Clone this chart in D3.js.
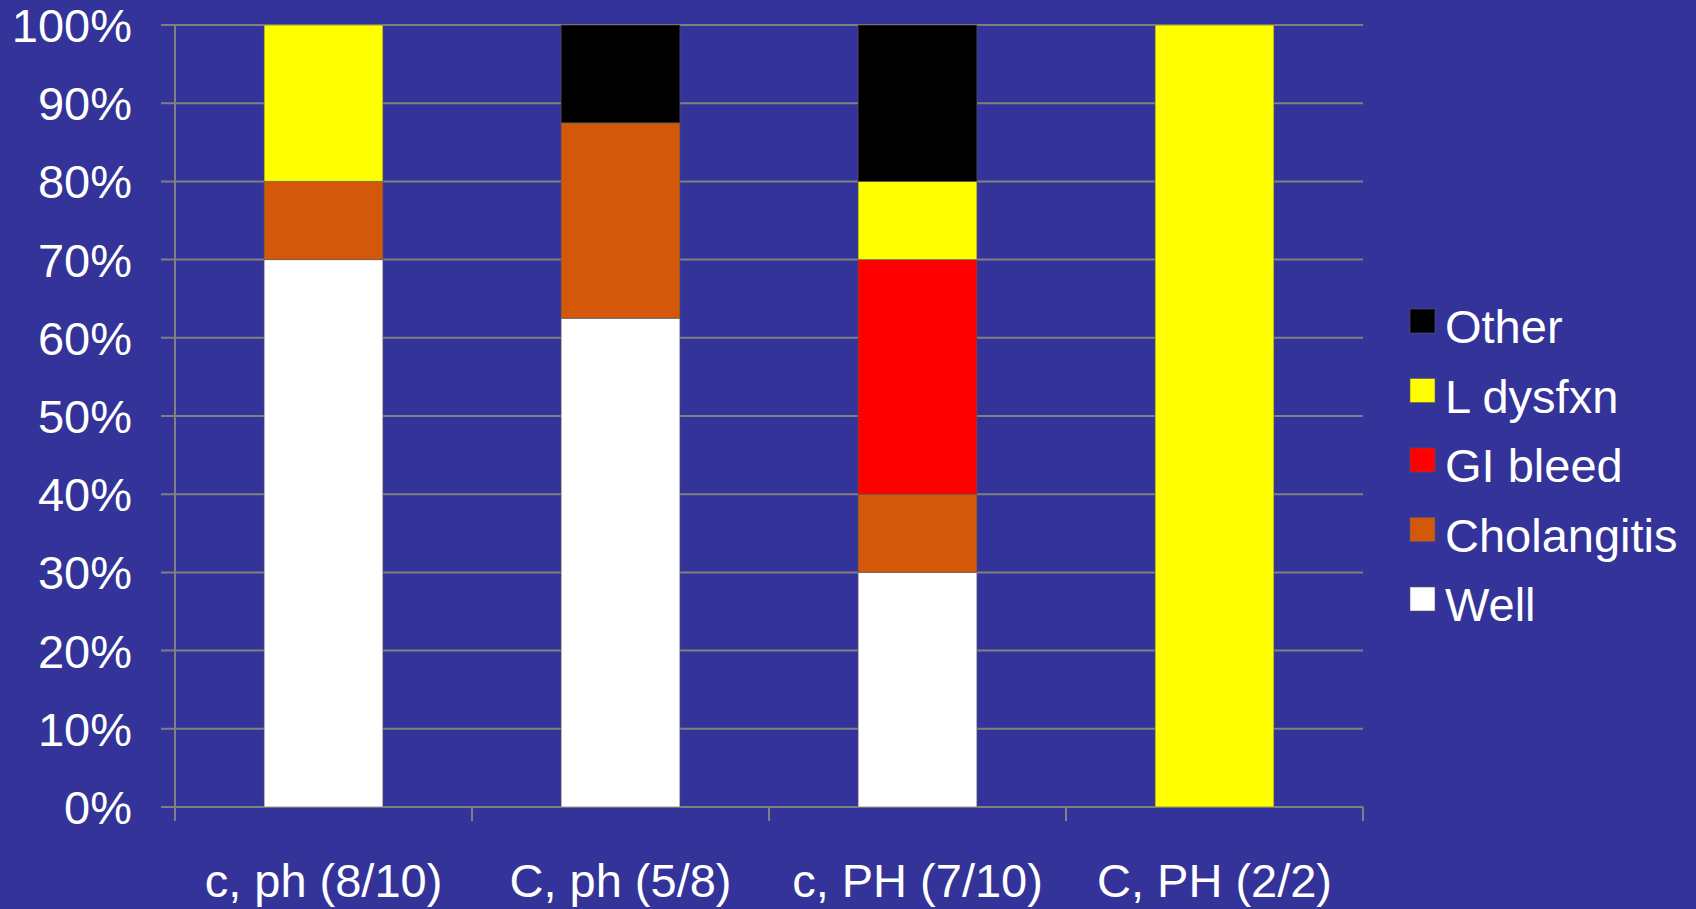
<!DOCTYPE html>
<html>
<head>
<meta charset="utf-8">
<script src="https://cdn.jsdelivr.net/npm/d3@7"></script>
<style>
  html, body { margin: 0; padding: 0; background: #333399; }
  svg { display: block; }
  text { font-family: "Liberation Sans", Arial, sans-serif; fill: #ffffff; }
</style>
</head>
<body>
<svg id="chart" width="1696" height="909"></svg>
<script>
// Groups (x-axis categories)
const categories = ["c, ph (8/10)", "C, ph (5/8)", "c, PH (7/10)", "C, PH (2/2)"];

// Outcome shares per group, in percent (stacked bottom to top)
const well        = [70, 62.5, 30, 0];
const cholangitis = [10, 25,   10, 0];
const giBleed     = [0,  0,    30, 0];
const lDysfxn     = [20, 0,    10, 100];
const other       = [0,  12.5, 20, 0];

const seriesNames  = ["Well", "Cholangitis", "GI bleed", "L dysfxn", "Other"];
const seriesColors = ["#ffffff", "#d4580a", "#ff0000", "#ffff00", "#000000"];

const yTicks = [0, 10, 20, 30, 40, 50, 60, 70, 80, 90, 100];

const rows = categories.map((c, i) => ({
  category: c,
  "Well": well[i],
  "Cholangitis": cholangitis[i],
  "GI bleed": giBleed[i],
  "L dysfxn": lDysfxn[i],
  "Other": other[i]
}));

const svg = d3.select("#chart");
const plot = { left: 175, right: 1363, top: 25, bottom: 807 };
const fontSize = "47px";

const x = d3.scaleBand()
  .domain(categories)
  .range([plot.left, plot.right])
  .paddingInner(0.6)
  .paddingOuter(0.3);

const y = d3.scaleLinear().domain([0, 100]).range([plot.bottom, plot.top]);

const color = d3.scaleOrdinal().domain(seriesNames).range(seriesColors);

// Horizontal gridlines with left tick stubs
svg.append("g")
  .selectAll("line")
  .data(yTicks)
  .join("line")
  .attr("x1", plot.left - 14)
  .attr("x2", plot.right)
  .attr("y1", d => y(d))
  .attr("y2", d => y(d))
  .attr("stroke", "#808080")
  .attr("stroke-width", 2);

// Y axis line
svg.append("line")
  .attr("x1", plot.left).attr("x2", plot.left)
  .attr("y1", plot.top).attr("y2", plot.bottom + 14)
  .attr("stroke", "#808080").attr("stroke-width", 2);

// Category separator ticks below the baseline
const sepX = categories.map(c => x(c) - x.step() * x.paddingOuter()).concat([plot.right]);
svg.append("g")
  .selectAll("line")
  .data(sepX.slice(1))
  .join("line")
  .attr("x1", d => d).attr("x2", d => d)
  .attr("y1", plot.bottom).attr("y2", plot.bottom + 14)
  .attr("stroke", "#808080").attr("stroke-width", 2);

// Y tick labels
svg.append("g")
  .selectAll("text")
  .data(yTicks)
  .join("text")
  .attr("x", 132)
  .attr("y", d => y(d))
  .attr("dy", "0.36em")
  .attr("text-anchor", "end")
  .style("font-size", fontSize)
  .text(d => d + "%");

// Stacked bars
const stacked = d3.stack().keys(seriesNames)(rows);
svg.append("g")
  .selectAll("g")
  .data(stacked)
  .join("g")
  .attr("fill", d => color(d.key))
  .selectAll("rect")
  .data(d => d.filter(s => s[1] - s[0] > 0))
  .join("rect")
  .attr("x", d => x(d.data.category))
  .attr("width", x.bandwidth())
  .attr("y", d => y(d[1]))
  .attr("height", d => y(d[0]) - y(d[1]))
  .attr("stroke", "rgba(90,90,90,0.6)")
  .attr("stroke-width", 1);

// X category labels
svg.append("g")
  .selectAll("text")
  .data(categories)
  .join("text")
  .attr("x", d => x(d) + x.bandwidth() / 2)
  .attr("y", 897)
  .attr("text-anchor", "middle")
  .style("font-size", fontSize)
  .text(d => d);

// Legend (top entry is the top of the stack)
const legendItems = seriesNames.slice().reverse();
const legend = svg.append("g")
  .selectAll("g")
  .data(legendItems)
  .join("g")
  .attr("transform", (d, i) => `translate(1410, ${309 + i * 69.5})`);

legend.append("rect")
  .attr("width", 25).attr("height", 24)
  .attr("fill", d => color(d))
  .attr("stroke", "rgba(90,90,90,0.6)");

legend.append("text")
  .attr("x", 35)
  .attr("y", 34)
  .style("font-size", fontSize)
  .text(d => d);
</script>
</body>
</html>
